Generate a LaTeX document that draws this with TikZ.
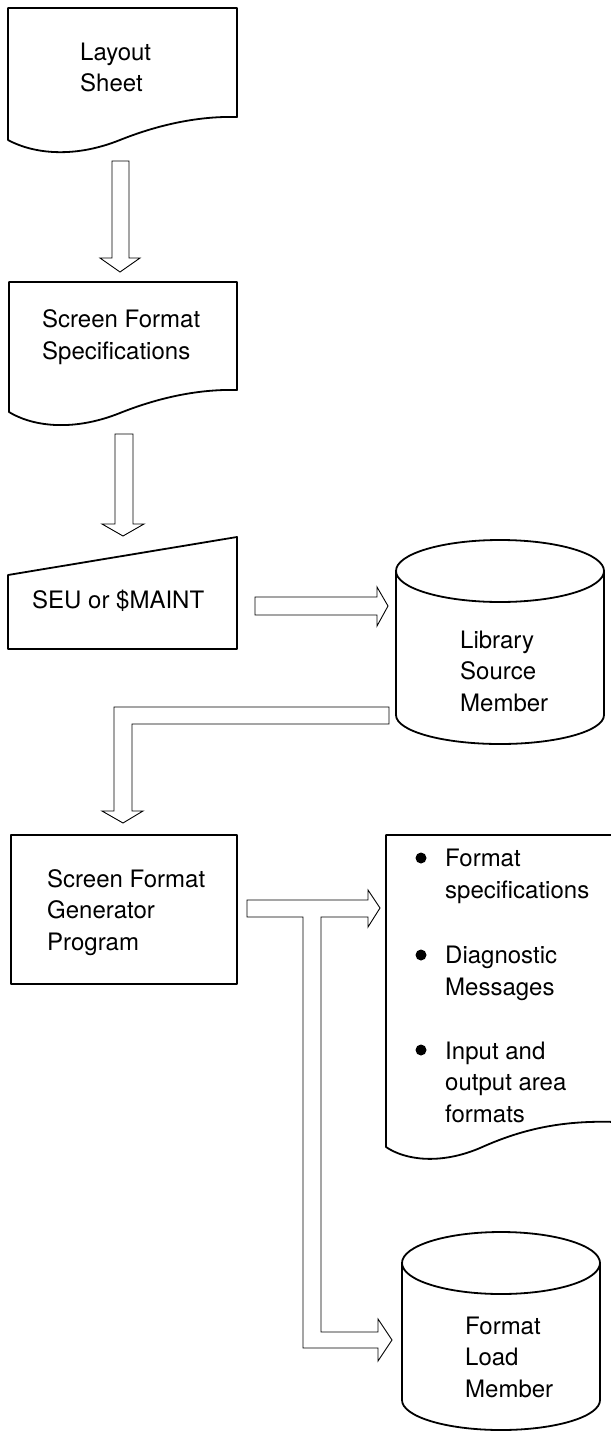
\documentclass[tikz,border=0pt]{standalone}
\usepackage{fontspec}
\setmainfont{TeX Gyre Heros}
\begin{document}
\begin{tikzpicture}[x=1pt,y=-1pt,
  outline/.style={draw=black, line width=1.8pt, line join=round},
  blockarrow/.style={draw=black, line width=0.9pt, line join=miter},
  lbl/.style={anchor=base west, align=left, inner sep=0pt,
              font=\fontsize{24}{31.5}\selectfont}]
\useasboundingbox (0,0) rectangle (610,1434);
\fill[white] (0,0) rectangle (610,1434);

% (multi-line labels are anchored at the baseline of their last line)

% ---- Layout Sheet (document)
\draw[outline] (8,8) -- (237,8) -- (237,117)
  .. controls (200,116) and (160,124) .. (120,140)
  .. controls (70,160) and (30,152) .. (8,140) -- cycle;
\node[lbl] (layout) at (80,92) {Layout\\Sheet};

% ---- arrow 1
\draw[blockarrow] (112,161) -- (129,161) -- (129,258) -- (140,258) -- (120,272)
  -- (100,258) -- (112,258) -- cycle;

% ---- Screen Format Specifications (document)
\draw[outline] (9,282) -- (237,282) -- (237,390)
  .. controls (200,389) and (160,397) .. (120,413)
  .. controls (70,433) and (30,425) .. (9,412) -- cycle;
\node[lbl] (sfs) at (42,359) {Screen Format\\Specifications};

% ---- arrow 2
\draw[blockarrow] (115,434) -- (133,434) -- (133,524) -- (144,524) -- (123,536)
  -- (102,524) -- (115,524) -- cycle;

% ---- SEU or $MAINT (manual input)
\draw[outline] (8,575) -- (237,537) -- (237,649) -- (8,649) -- cycle;
\node[lbl] (seu) at (32,608) {SEU or \$MAINT};

% ---- arrow 3
\draw[blockarrow] (255,597) -- (377,597) -- (377,587) -- (388,606) -- (377,626)
  -- (377,615) -- (255,615) -- cycle;

% ---- Library Source Member (cylinder)
\draw[outline] (500,571) ellipse[x radius=104, y radius=31];
\draw[outline] (396,571) -- (396,715)
  arc[start angle=180, end angle=0, x radius=104, y radius=29] -- (604,571);
\node[lbl] (lib) at (460,711) {Library\\Source\\Member};

% ---- elbow arrow
\draw[blockarrow] (389,707) -- (114,707) -- (114,811) -- (102,811) -- (123,823)
  -- (143,811) -- (132,811) -- (132,724) -- (389,724) -- cycle;

% ---- Screen Format Generator Program
\draw[outline] (11,835) rectangle (237,984);
\node[lbl] (sfg) at (47,950) {Screen Format\\Generator\\Program};

% ---- output arrow with branch
\draw[blockarrow] (247,900) -- (368,900) -- (368,890) -- (380,908) -- (368,927)
  -- (368,917) -- (321,917) -- (321,1332) -- (378,1332) -- (378,1319)
  -- (392,1340) -- (378,1361) -- (378,1348) -- (303,1348) -- (303,917)
  -- (247,917) -- cycle;

% ---- output document
\draw[outline] (616,1122) -- (616,835) -- (386,835) -- (386,1147)
  .. controls (405,1160) and (440,1165) .. (480,1148)
  .. controls (520,1130) and (560,1120) .. (616,1122);
\fill (421,858) circle[radius=5.5];
\fill (421,955) circle[radius=5.5];
\fill (421,1050) circle[radius=5.5];
\node[lbl] (o1) at (445,898) {Format\\specifications};
\node[lbl] (o2) at (445,995) {Diagnostic\\Messages};
\node[lbl] (o3) at (445,1122) {Input and\\output area\\formats};

% ---- Format Load Member (cylinder)
\draw[outline] (501,1263) ellipse[x radius=99, y radius=31];
\draw[outline] (402,1263) -- (402,1400)
  arc[start angle=180, end angle=0, x radius=99, y radius=30] -- (600,1263);
\node[lbl] (flm) at (465,1397) {Format\\Load\\Member};
\end{tikzpicture}
\end{document}
